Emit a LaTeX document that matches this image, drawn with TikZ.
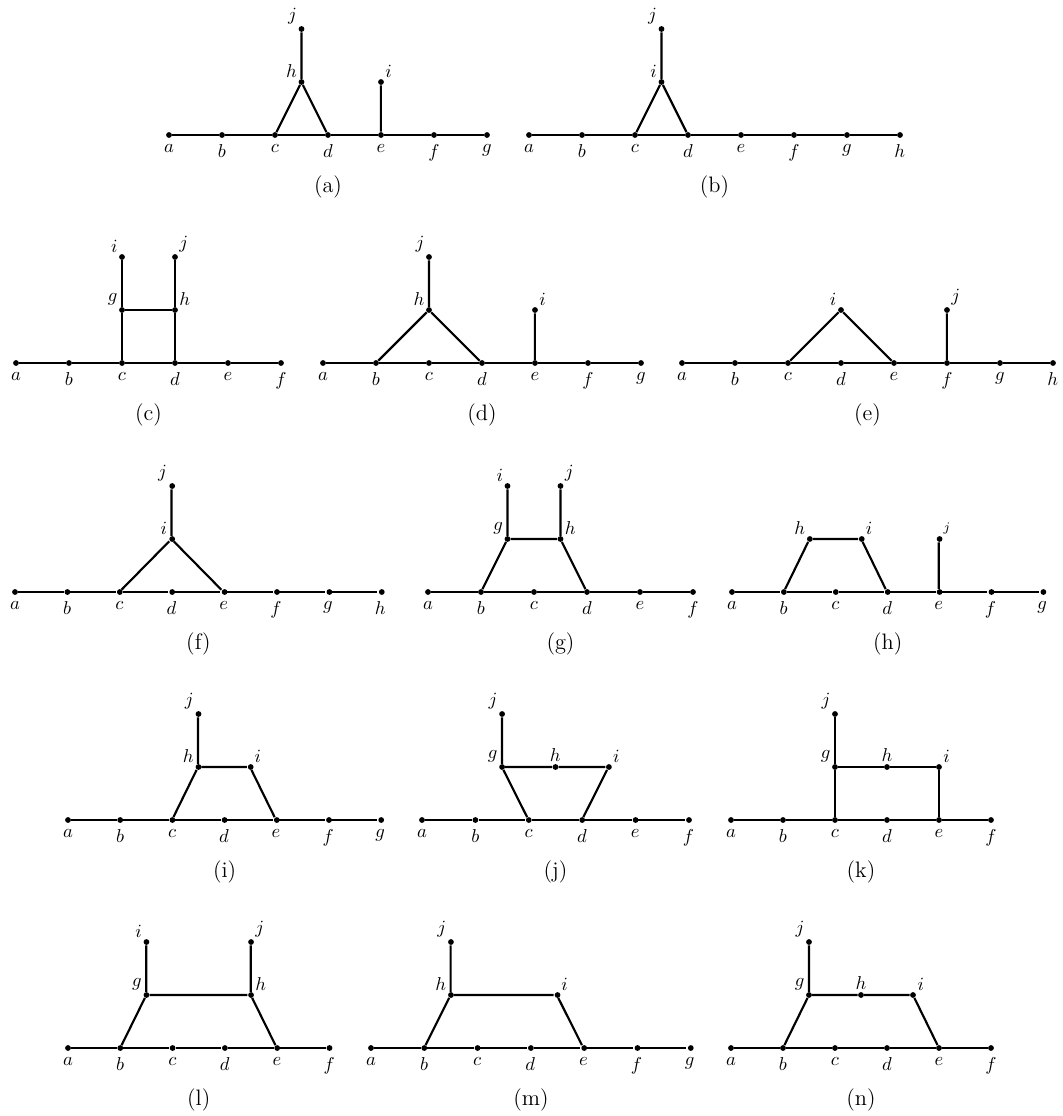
\documentclass[tikz,border=0pt]{standalone}
\begin{document}
\begin{tikzpicture}[x=0.0188679cm,y=-0.0188679cm,
  dot/.style={circle,fill=black,inner sep=0pt,minimum size=3.1pt},
  ln/.style={line width=1.15pt},
  lb/.style={label={below:$#1$}},
  al/.style={label={[inner sep=1pt]above left:$#1$}},
  ar/.style={label={[inner sep=1pt]above right:$#1$}},
  ab/.style={label={[inner sep=1pt]above:$#1$}},
  arsmall/.style={label={[inner sep=1pt,font=\scriptsize]above right:$#1$}},
  captxt/.style={font=\large}]
\useasboundingbox (0,0) rectangle (1063,1116);
\newcommand\spine[1]{\foreach \n [count=\i from 0] in {#1} {\node[dot,lb=\n] (\n) at (\i,0) {};}}

% (a)
\begin{scope}[shift={(169,135)},xscale=53,yscale=-53]
\spine{a,b,c,d,e,f,g}
\node[dot,al=h] (h) at (2.5,1) {};
\node[dot,al=j] (j) at (2.5,2) {};
\node[dot,ar=i] (i) at (4,1) {};
\draw[ln] (a)--(b)--(c)--(d)--(e)--(f)--(g);
\draw[ln] (c)--(h)--(d) (h)--(j) (e)--(i);
\node[captxt] (capa) at (3,-0.98) {(a)};
\end{scope}

% (b)
\begin{scope}[shift={(529,135)},xscale=53,yscale=-53]
\spine{a,b,c,d,e,f,g,h}
\node[dot,al=i] (i) at (2.5,1) {};
\node[dot,al=j] (j) at (2.5,2) {};
\draw[ln] (a)--(b)--(c)--(d)--(e)--(f)--(g)--(h);
\draw[ln] (c)--(i)--(d) (i)--(j);
\node[captxt] (capb) at (3.5,-0.98) {(b)};
\end{scope}

% (c)
\begin{scope}[shift={(16,363)},xscale=53,yscale=-53]
\spine{a,b,c,d,e,f}
\node[dot,al=g] (g) at (2,1) {};
\node[dot,ar=h] (h) at (3,1) {};
\node[dot,al=i] (i) at (2,2) {};
\node[dot,ar=j] (j) at (3,2) {};
\draw[ln] (a)--(b)--(c)--(d)--(e)--(f);
\draw[ln] (c)--(g)--(i) (d)--(h)--(j) (g)--(h);
\node[captxt] (capc) at (2.5,-0.98) {(c)};
\end{scope}

% (d)
\begin{scope}[shift={(323,363)},xscale=53,yscale=-53]
\spine{a,b,c,d,e,f,g}
\node[dot,al=h] (h) at (2,1) {};
\node[dot,al=j] (j) at (2,2) {};
\node[dot,ar=i] (i) at (4,1) {};
\draw[ln] (a)--(b)--(c)--(d)--(e)--(f)--(g);
\draw[ln] (b)--(h)--(d) (h)--(j) (e)--(i);
\node[captxt] (capd) at (3,-0.98) {(d)};
\end{scope}

% (e)
\begin{scope}[shift={(682,363)},xscale=53,yscale=-53]
\spine{a,b,c,d,e,f,g,h}
\node[dot,al=i] (i) at (3,1) {};
\node[dot,ar=j] (j) at (5,1) {};
\draw[ln] (a)--(b)--(c)--(d)--(e)--(f)--(g)--(h);
\draw[ln] (c)--(i)--(e) (f)--(j);
\node[captxt] (cape) at (3.5,-0.98) {(e)};
\end{scope}

% (f)
\begin{scope}[shift={(15,592)},xscale=52.4,yscale=-53]
\spine{a,b,c,d,e,f,g,h}
\node[dot,al=i] (i) at (3,1) {};
\node[dot,al=j] (j) at (3,2) {};
\draw[ln] (a)--(b)--(c)--(d)--(e)--(f)--(g)--(h);
\draw[ln] (c)--(i)--(e) (i)--(j);
\node[captxt] (capf) at (3.5,-0.98) {(f)};
\end{scope}

% (g)
\begin{scope}[shift={(428,592)},xscale=53,yscale=-53]
\spine{a,b,c,d,e,f}
\node[dot,al=g] (g) at (1.5,1) {};
\node[dot,ar=h] (h) at (2.5,1) {};
\node[dot,al=i] (i) at (1.5,2) {};
\node[dot,ar=j] (j) at (2.5,2) {};
\draw[ln] (a)--(b)--(c)--(d)--(e)--(f);
\draw[ln] (b)--(g)--(h)--(d) (g)--(i) (h)--(j);
\node[captxt] (capg) at (2.5,-0.98) {(g)};
\end{scope}

% (h)
\begin{scope}[shift={(732,592)},xscale=51.9,yscale=-53]
\spine{a,b,c,d,e,f,g}
\node[dot,al=h] (h) at (1.5,1) {};
\node[dot,ar=i] (i) at (2.5,1) {};
\node[dot,arsmall=j] (j) at (4,1) {};
\draw[ln] (a)--(b)--(c)--(d)--(e)--(f)--(g);
\draw[ln] (b)--(h)--(i)--(d) (e)--(j);
\node[captxt] (caph) at (3,-0.98) {(h)};
\end{scope}

% (i)
\begin{scope}[shift={(68,820)},xscale=52.2,yscale=-53]
\spine{a,b,c,d,e,f,g}
\node[dot,al=h] (h) at (2.5,1) {};
\node[dot,ar=i] (i) at (3.5,1) {};
\node[dot,al=j] (j) at (2.5,2) {};
\draw[ln] (a)--(b)--(c)--(d)--(e)--(f)--(g);
\draw[ln] (c)--(h)--(i)--(e) (h)--(j);
\node[captxt] (capi) at (3,-0.98) {(i)};
\end{scope}

% (j)
\begin{scope}[shift={(422,820)},xscale=53.4,yscale=-53]
\spine{a,b,c,d,e,f}
\node[dot,al=g] (g) at (1.5,1) {};
\node[dot,ab=h] (h) at (2.5,1) {};
\node[dot,ar=i] (i) at (3.5,1) {};
\node[dot,al=j] (j) at (1.5,2) {};
\draw[ln] (a)--(b)--(c)--(d)--(e)--(f);
\draw[ln] (c)--(g)--(h)--(i)--(d) (g)--(j);
\node[captxt] (capj) at (2.5,-0.98) {(j)};
\end{scope}

% (k)
\begin{scope}[shift={(731,820)},xscale=52,yscale=-53]
\spine{a,b,c,d,e,f}
\node[dot,al=g] (g) at (2,1) {};
\node[dot,ab=h] (h) at (3,1) {};
\node[dot,ar=i] (i) at (4,1) {};
\node[dot,al=j] (j) at (2,2) {};
\draw[ln] (a)--(b)--(c)--(d)--(e)--(f);
\draw[ln] (c)--(g)--(h)--(i)--(e) (g)--(j);
\node[captxt] (capk) at (2.5,-0.98) {(k)};
\end{scope}

% (l)
\begin{scope}[shift={(68,1048)},xscale=52.3,yscale=-53]
\spine{a,b,c,d,e,f}
\node[dot,al=g] (g) at (1.5,1) {};
\node[dot,ar=h] (h) at (3.5,1) {};
\node[dot,al=i] (i) at (1.5,2) {};
\node[dot,ar=j] (j) at (3.5,2) {};
\draw[ln] (a)--(b)--(c)--(d)--(e)--(f);
\draw[ln] (b)--(g)--(h)--(e) (g)--(i) (h)--(j);
\node[captxt] (capl) at (2.5,-0.98) {(l)};
\end{scope}

% (m)
\begin{scope}[shift={(371,1048)},xscale=53.3,yscale=-53]
\spine{a,b,c,d,e,f,g}
\node[dot,al=h] (h) at (1.5,1) {};
\node[dot,ar=i] (i) at (3.5,1) {};
\node[dot,al=j] (j) at (1.5,2) {};
\draw[ln] (a)--(b)--(c)--(d)--(e)--(f)--(g);
\draw[ln] (b)--(h)--(i)--(e) (h)--(j);
\node[captxt] (capm) at (3,-0.98) {(m)};
\end{scope}

% (n)
\begin{scope}[shift={(731,1048)},xscale=52,yscale=-53]
\spine{a,b,c,d,e,f}
\node[dot,al=g] (g) at (1.5,1) {};
\node[dot,ab=h] (h) at (2.5,1) {};
\node[dot,ar=i] (i) at (3.5,1) {};
\node[dot,al=j] (j) at (1.5,2) {};
\draw[ln] (a)--(b)--(c)--(d)--(e)--(f);
\draw[ln] (b)--(g)--(h)--(i)--(e) (g)--(j);
\node[captxt] (capn) at (2.5,-0.98) {(n)};
\end{scope}
\end{tikzpicture}
\end{document}
